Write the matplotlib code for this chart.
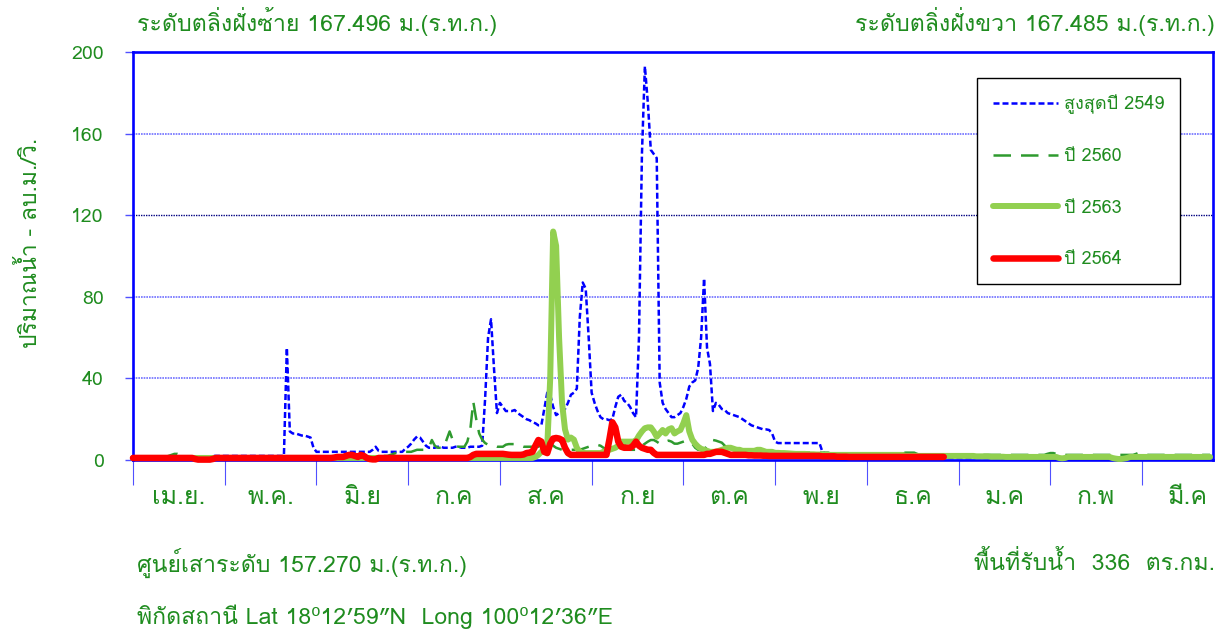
import matplotlib
matplotlib.use("Agg")
import matplotlib.pyplot as plt
from matplotlib import font_manager
from matplotlib.ft2font import FT2Font
from matplotlib.lines import Line2D

# ---------------- data ----------------
month_labels = ["เม.ย.", "พ.ค.", "มิ.ย", "ก.ค", "ส.ค", "ก.ย", "ต.ค", "พ.ย", "ธ.ค", "ม.ค", "ก.พ", "มี.ค"]
series_names = ["สูงสุดปี 2549", "ปี 2560", "ปี 2563", "ปี 2564"]

q_2549 = [
    1.5, 1.5, 1.5, 1.5, 1.5, 1.5, 1.5, 1.5, 1.5, 1.5,
    1.5, 1.5, 1.5, 1.5, 1.5, 1.5, 1.5, 1.5, 1.5, 1.5,
    1.5, 1.5, 1.5, 1.5, 1.5, 1.5, 1.5, 2, 2, 2,
    2, 2, 2, 2, 2, 2, 2, 2, 2, 2,
    2, 2, 2, 2, 2, 2, 2, 2, 2, 2,
    2, 2, 55, 14, 13, 13, 12.5, 12, 12, 11.5,
    11, 6, 4, 4, 4, 4, 4, 4, 4, 4,
    4, 4, 4, 4, 4, 4, 4, 4, 4, 4,
    4, 5, 6.5, 4.5, 4, 4, 4, 4, 4, 4,
    4, 4, 5.5, 6.5, 8, 10, 11.5, 11, 9, 7,
    6, 6, 6, 6.5, 6.5, 6, 6, 6, 6, 6.5,
    6.5, 6, 6, 6, 6.5, 6.5, 6.5, 6.5, 7, 30,
    60, 69, 45, 23, 28, 26, 24, 24, 24, 24.5,
    23, 22, 21, 20, 19.5, 18.5, 18, 17, 17, 25,
    33, 32, 26, 22, 23, 24, 25, 28, 32, 33,
    35, 70, 87, 84, 60, 33, 28, 24, 21, 20,
    20, 19.5, 20, 26, 31, 32, 29, 28, 26, 23,
    21, 60, 150, 193, 175, 152, 150, 148, 38, 28,
    25, 23, 21, 21, 22, 23, 26, 30, 36, 38,
    39, 45, 60, 89, 55, 47, 24, 28, 27, 25,
    24.5, 23, 22.5, 22, 21.5, 21, 20, 19, 18, 17,
    16.5, 16, 15.5, 15, 15, 14.7, 13, 9, 8.3, 8.3,
    8.3, 8.3, 8.3, 8.3, 8.3, 8.3, 8.3, 8.3, 8.3, 8.3,
    8.3, 8.3, 8.3, 4, 3, 3, 3, 3, 3, 3,
    3, 3, 3, 3, 3, 3, 2, 2, 2, 2,
    2, 2, 2, 2, 2, 2, 2, 2, 2, 2,
    2, 1, 1, 1, 1, 1, 1, 1, 1, 1,
    1, 1, 1, 1, 1, 1, 1, 1, 1, 1,
    1, 1, 1, 1, 1, 1, 1, 1, 1, 1,
    1, 1, 1, 1, 1, 1, 1, 1, 1, 1,
    1, 1, 1, 1, 1, 1, 1, 1, 1, 1,
    1, 1, 1, 1, 1, 1, 1, 1, 1, 1,
    1, 1, 1, 1, 1, 1, 1, 1, 1, 1,
    1, 1, 1, 1, 1, 1, 1, 1, 1, 1,
    1, 1, 1, 1, 1, 1, 1, 1, 1, 1,
    1, 1, 1, 1, 1, 1, 1, 1, 1, 1,
    1, 1, 1, 1, 1,
]

q_2560 = [
    1.5, 1.5, 1.5, 1.5, 1.5, 1.5, 1.5, 1.5, 1.5, 1.5,
    1.5, 1.5, 2, 2.5, 3, 3, 2.5, 2, 1.5, 1.5,
    1.5, 1.5, 1.5, 1.5, 1.5, 1.5, 1.5, 1.5, 1.5, 1.5,
    1.5, 1.5, 1.5, 1.5, 1.5, 1.5, 1.5, 1.5, 1.5, 1.5,
    1.5, 1.5, 1.5, 1.5, 1.5, 1.5, 1.5, 1.5, 1.5, 1.5,
    1.5, 1.5, 1.5, 1.5, 1.5, 1.5, 1.5, 1.5, 1.5, 1.5,
    1.5, 1.5, 1.5, 1.5, 1.5, 1.5, 1.5, 1.5, 1.5, 1.5,
    1.5, 1.5, 1.5, 1.5, 1.5, 1.5, 1.5, 1.5, 1.5, 1.5,
    1.5, 1.5, 1.5, 1.5, 1.5, 2, 2, 2.5, 3, 3.5,
    4, 4, 4, 4, 4, 4.5, 5, 5, 5, 5,
    6, 9.8, 7, 6, 6, 6, 10, 14, 10, 7,
    6.5, 6.5, 6.5, 9, 15, 28.6, 20, 13, 10, 8.3,
    7.5, 7, 7, 6.5, 6.5, 6.5, 7.5, 7.8, 7.8, 7.8,
    7.5, 7, 6.5, 6.5, 6.5, 6.5, 6.5, 6.5, 8, 9.8,
    9.8, 9, 7, 6, 5.5, 5, 5, 5, 5, 5,
    5, 5, 5.5, 6, 6.5, 7, 7.5, 7.4, 7, 6,
    5, 5, 5, 5.5, 7, 9, 8, 6, 5, 5,
    5, 5.5, 7, 8, 9, 9.8, 9.8, 9, 8, 8,
    9, 9.5, 9, 8, 8, 8.5, 9, 9.5, 9, 8,
    6, 5, 5, 5, 7, 9, 9.8, 9.5, 9, 8.5,
    7, 6, 6, 6, 5.5, 5, 5, 5, 4.5, 4.5,
    4.5, 4, 4, 4, 4, 4, 4, 3.6, 3.6, 3.6,
    3.6, 3.6, 3.6, 3.6, 3.6, 3.6, 3.6, 3.6, 3.6, 3.6,
    3.6, 3.6, 3.6, 3.6, 3.6, 3.6, 3, 3, 3, 3,
    3, 3, 2.5, 2.5, 3, 3, 3, 2.5, 2.5, 2.5,
    2.5, 2.5, 2.5, 2.5, 2.5, 3, 3, 3, 3, 3,
    3, 3.6, 3.6, 3.6, 3.6, 3, 2.5, 2.5, 2.5, 2.5,
    2.5, 2.5, 2.5, 2.5, 2.5, 2.5, 2.5, 2.5, 2.5, 2.5,
    2.5, 2.5, 2.5, 2.5, 2.5, 2.5, 2.5, 2.5, 2.5, 2.5,
    2.5, 2.5, 2.5, 2.5, 2.5, 2.5, 2.5, 2.5, 2.5, 2.5,
    2.5, 2.5, 2.5, 2.5, 2.5, 2.5, 2.5, 2.5, 2.5, 3,
    3.4, 3.4, 3, 2.5, 2.5, 2.5, 2.5, 2.5, 2.5, 2.5,
    2.5, 2.5, 2.5, 2.5, 2.5, 2.5, 2.5, 2.5, 2.5, 2.5,
    2.5, 2.5, 2.5, 2.5, 2.5, 2.5, 2.5, 2.5, 2.5, 3,
    3.6, 3.4, 3, 2.5, 2.5, 2.5, 2.5, 2.5, 2.5, 2.5,
    2.5, 2.5, 2.5, 2.5, 2.5, 2.5, 2.5, 2.5, 2.5, 2.5,
    2.5, 2.5, 2.5, 2.5, 2.5,
]

q_2563 = [
    1, 1, 1, 1, 1, 1, 1, 1, 1, 1,
    1, 1, 1, 1, 1, 1, 1, 1, 1, 1,
    1, 1, 1, 1, 1, 1, 1, 1, 1, 1,
    1, 1, 1, 1, 1, 1, 1, 1, 1, 1,
    1, 1, 1, 1, 1, 1, 1, 1, 1, 1,
    1, 1, 1, 1, 1, 1, 1, 1, 1, 1,
    1, 1, 1, 1, 1, 1, 1, 1, 1, 1,
    1, 1, 1, 1, 1, 1, 1, 1, 1, 1,
    1, 1, 1, 1, 1, 1, 1, 1, 1, 1,
    1, 1, 1, 1, 1, 1, 1, 1, 1, 1,
    1, 1, 1, 1, 1, 1, 1, 1, 1, 1,
    1, 1, 1, 1, 1, 1, 1, 1, 1, 1,
    1, 1, 1, 1, 1, 1, 1, 1, 1, 1,
    1, 1, 1, 1, 1, 1, 1.5, 2.5, 4, 5.5,
    6.5, 40, 112, 105, 60, 28, 15, 10, 11, 10,
    6, 4, 3.5, 3.4, 3.4, 3.4, 3.4, 3.4, 3.4, 4,
    4.5, 5, 5.5, 6, 7, 9, 9, 9, 9, 9,
    9.5, 12, 14, 15.6, 16, 16, 14, 11.4, 13, 14.7,
    13, 15, 15.6, 13, 14, 14.7, 18, 22, 14, 10,
    8, 6.5, 5.5, 5, 4.5, 4, 4, 4, 4.5, 5,
    5.5, 6, 6, 5.5, 5, 5, 4.5, 4.5, 4.5, 4.5,
    4.5, 5, 5, 4.5, 4, 4, 4, 3.5, 3.5, 3.4,
    3.4, 3.3, 3.2, 3.1, 3, 3, 3, 3, 2.9, 2.8,
    2.8, 2.7, 2.7, 2.6, 2.6, 2.5, 2.5, 2.5, 2.5, 2.5,
    2.5, 2.5, 2.5, 2.5, 2.5, 2.5, 2.5, 2.5, 2.5, 2.5,
    2.5, 2.5, 2.5, 2.5, 2.5, 2.5, 2.5, 2.5, 2.5, 2.5,
    2.5, 2, 2, 2, 2, 2, 2, 2, 2, 2,
    2, 2, 2, 2, 2, 2, 2, 2, 2, 2,
    2, 2, 2, 2, 2, 1.8, 1.8, 1.8, 1.8, 1.8,
    1.6, 1.6, 1.6, 1.6, 1.6, 1.5, 1.5, 1.5, 1.5, 1.5,
    1.5, 1.5, 1.5, 1.5, 1.5, 1.5, 1.5, 1.5, 1.5, 1.5,
    1.5, 1.5, 1.5, 1, 0.8, 1, 1.5, 1.5, 1.5, 1.5,
    1.5, 1.5, 1.5, 1.5, 1.5, 1.5, 1.5, 1.5, 1.5, 1.5,
    1.5, 1, 0.7, 0.5, 0.5, 0.7, 1, 1.5, 1.5, 1.5,
    1.5, 1.5, 1.5, 1.5, 1.5, 1.5, 1.5, 1.5, 1.5, 1.5,
    1.5, 1.5, 1.5, 1.5, 1.5, 1.5, 1.5, 1.5, 1.5, 1.5,
    1.5, 1.5, 1.5, 1.5, 1.5,
]

q_2564 = [
    1, 1, 1, 1, 1, 1, 1, 1, 1, 1,
    1, 1, 1, 1, 1, 1, 1, 1, 1, 1,
    1, 0.5, 0.2, 0.2, 0.2, 0.2, 0.2, 0.5, 1, 1,
    1, 1, 1, 1, 1, 1, 1, 1, 1, 1,
    1, 1, 1, 1, 1, 1, 1, 1, 1, 1,
    1, 1, 1, 1, 1, 1, 1, 1, 1, 1,
    1, 1, 1, 1, 1, 1, 1, 1, 1.2, 1.5,
    1.5, 1.5, 2, 2.5, 2.5, 2, 1.5, 2.5, 2, 1,
    0.5, 0.3, 0.3, 1, 1, 1, 1, 1, 1, 1,
    1, 1, 1, 1, 1, 1, 1, 1, 1, 1,
    1, 1, 1, 1, 1, 1, 1, 1, 1, 1,
    1, 1, 1, 1, 1.5, 2.5, 3, 3, 3, 3,
    3, 3, 3, 3, 3, 3, 2.8, 2.6, 2.5, 2.5,
    2.5, 2.5, 2.7, 3.4, 3.6, 4, 7, 9.8, 9, 4,
    3.4, 8, 10.5, 10.8, 10.5, 9.8, 6, 3.4, 2.5, 2.5,
    2.5, 2.5, 2.5, 2.5, 2.5, 2.5, 2.5, 2.5, 2.5, 2.5,
    2.5, 10, 18.5, 16, 9, 6.5, 6, 6, 6, 7,
    9, 7, 6, 5.5, 5, 5, 3.5, 2.5, 2.5, 2.5,
    2.5, 2.5, 2.5, 2.5, 2.5, 2.5, 2.5, 2.5, 2.5, 2.5,
    2.5, 2.5, 2.5, 2.5, 3, 3, 3.5, 4, 4, 4,
    3.5, 3, 2.5, 2.5, 2.5, 2.5, 2.5, 2.5, 2.3, 2.3,
    2.2, 2.2, 2.2, 2.1, 2.1, 2, 2, 2, 2, 2,
    2, 2, 2, 2, 2, 2, 2, 2, 2, 2,
    2, 2, 2, 1.8, 1.8, 1.8, 1.8, 1.8, 1.6, 1.6,
    1.6, 1.6, 1.5, 1.5, 1.5, 1.5, 1.5, 1.5, 1.5, 1.5,
    1.5, 1.5, 1.5, 1.5, 1.5, 1.5, 1.5, 1.5, 1.5, 1.5,
    1.5, 1.5, 1.5, 1.5, 1.5, 1.5, 1.5, 1.5, 1.5, 1.5,
    1.5, 1.5, 1.5, 1.5, 1.5,
]

y_ticks = [0, 40, 80, 120, 160, 200]

# ---------------- fonts ----------------
def find_thai_font():
    preferred = []
    others = []
    seen = set()
    for fe in font_manager.fontManager.ttflist:
        if fe.fname in seen:
            continue
        seen.add(fe.fname)
        try:
            cmap = FT2Font(fe.fname).get_charmap()
        except Exception:
            continue
        if 0x0E01 in cmap and 0x0E49 in cmap:
            if fe.style == "normal" and fe.weight in (400, "normal", "regular"):
                preferred.append(fe.name)
            else:
                others.append(fe.name)
    for lst in (preferred, others):
        for n in lst:
            if "Thai" in n or "Loma" in n or "Sarabun" in n or "Garuda" in n:
                return n
    if preferred:
        return preferred[0]
    if others:
        return others[0]
    return None

thai = find_thai_font()
families = ([thai] if thai else []) + ["DejaVu Sans"]
plt.rcParams["font.family"] = families

GREEN_TXT = "#1f8c1f"
BLUE = "#0000ff"

# ---------------- figure ----------------
W, H = 1227, 636
fig = plt.figure(figsize=(W / 100, H / 100), dpi=100)
L, R, T, B = 133, 1213, 52, 460
ax = fig.add_axes([L / W, 1 - B / H, (R - L) / W, (B - T) / H])

days = list(range(len(q_2549)))
ax.plot(days, q_2549, color=BLUE, lw=1.8, dashes=(2.4, 1.2), zorder=3, clip_on=False)
ax.plot(list(range(len(q_2560))), q_2560, color="#2e9a2e", lw=1.8, dashes=(7, 4), zorder=4, clip_on=False)
ax.plot(list(range(len(q_2563))), q_2563, color="#92d050", lw=4.3, solid_capstyle="round",
        solid_joinstyle="round", zorder=5, clip_on=False)
ax.plot(list(range(len(q_2564))), q_2564, color="#ff0000", lw=4.7, solid_capstyle="round",
        solid_joinstyle="round", zorder=6, clip_on=False)

ax.set_xlim(0, 365)
ax.set_ylim(0, 200)

# grid lines
for v in (40, 80, 160):
    ax.axhline(v, color="#6f6fff", lw=1.2, ls=(0, (1, 0.6)), zorder=1)
ax.axhline(120, color="#000080", lw=1.0, ls=(0, (1, 0.8)), zorder=1)

for s in ax.spines.values():
    s.set_color(BLUE)
    s.set_linewidth(1.9)

ax.set_yticks(y_ticks)
ax.set_yticklabels([str(v) for v in y_ticks])
ax.tick_params(axis="y", direction="out", length=6, width=1.0, color="#5050ff",
               labelsize=14, labelcolor=GREEN_TXT, pad=15)

major_x = [31 * k for k in range(12)]
minor_x = [31 * k + 15.5 for k in range(12)]
ax.set_xticks(major_x)
ax.set_xticklabels([""] * len(major_x))
ax.set_xticks(minor_x, minor=True)
ax.set_xticklabels(month_labels, minor=True)
ax.tick_params(axis="x", which="major", direction="out", length=18, width=0.8, color="#5050ff")
ax.tick_params(axis="x", which="minor", length=0, labelsize=18, labelcolor=GREEN_TXT, pad=19)

# legend
handles = [
    Line2D([], [], color=BLUE, lw=1.8, dashes=(2.4, 1.2)),
    Line2D([], [], color="#2e9a2e", lw=1.8, dashes=(7, 4)),
    Line2D([], [], color="#92d050", lw=4.3, solid_capstyle="round"),
    Line2D([], [], color="#ff0000", lw=4.7, solid_capstyle="round"),
]
leg = fig.legend(handles, series_names, loc="upper left",
                 bbox_to_anchor=(977 / W, 1 - 78 / H), bbox_transform=fig.transFigure,
                 frameon=True, fancybox=False, edgecolor="black", framealpha=1,
                 fontsize=13, handlelength=3.6, handletextpad=0.3, labelspacing=1.85,
                 borderpad=0.9, borderaxespad=0)
leg.get_frame().set_linewidth(1.0)
for t in leg.get_texts():
    t.set_color(GREEN_TXT)

# texts
fig.text(137 / W, 1 - 21 / H, "ระดับตลิ่งฝั่งซ้าย 167.496 ม.(ร.ท.ก.)", color=GREEN_TXT,
         fontsize=16.7, ha="left", va="center")
fig.text(1215 / W, 1 - 21 / H, "ระดับตลิ่งฝั่งขวา 167.485 ม.(ร.ท.ก.)", color=GREEN_TXT,
         fontsize=16.7, ha="right", va="center")
fig.text(30 / W, 1 - 243 / H, "ปริมาณน้ำ - ลบ.ม./วิ.", color=GREEN_TXT, fontsize=16.5,
         rotation=90, ha="center", va="center")
fig.text(137 / W, 1 - 563 / H, "ศูนย์เสาระดับ 157.270 ม.(ร.ท.ก.)", color=GREEN_TXT,
         fontsize=16.6, ha="left", va="center")
fig.text(1215 / W, 1 - 563 / H, "พื้นที่รับน้ำ  336  ตร.กม.", color=GREEN_TXT,
         fontsize=16.6, ha="right", va="center")
fig.text(137 / W, 1 - 617 / H, "พิกัดสถานี Lat 18⁰12′59″N  Long 100⁰12′36″E", color=GREEN_TXT,
         fontsize=16.6, ha="left", va="center")

fig.savefig("out.png", dpi=100)
